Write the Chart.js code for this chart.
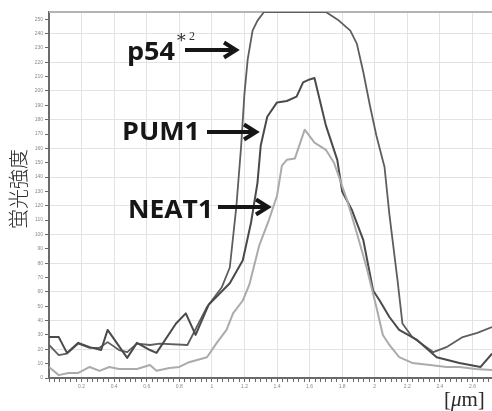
<!DOCTYPE html>
<html lang="ja">
<head>
<meta charset="UTF-8">
<title>蛍光強度プロファイル</title>
<script src="https://cdn.jsdelivr.net/npm/chart.js"></script>
<style>
  html, body { margin: 0; padding: 0; background: #fff; }
  #wrap { width: 492px; height: 411px; }
</style>
</head>
<body>
<div id="wrap"><canvas id="profile" width="492" height="411"></canvas></div>
<script>
// line-scan position (um) and intensity
const p54X = [0, 0.06, 0.11, 0.18, 0.25, 0.31, 0.36, 0.43, 0.48, 0.54, 0.62, 0.68, 0.85, 0.97, 1.06, 1.11, 1.15, 1.18, 1.20, 1.22, 1.25, 1.28, 1.32, 1.70, 1.78, 1.85, 1.89, 1.93, 1.97, 2.01, 2.06, 2.09, 2.14, 2.17, 2.23, 2.36, 2.44, 2.54, 2.63, 2.72];
const p54Y = [23, 16, 17, 24, 21, 21, 25, 19.5, 18, 24, 23, 24, 23, 49.5, 63, 77, 119, 162, 198, 222, 242, 249, 255, 255, 249, 242, 233, 213, 190, 169, 147, 114, 68, 38, 28.5, 18, 21.5, 28.5, 31.5, 35.5];

const pum1X = [0, 0.06, 0.11, 0.18, 0.25, 0.32, 0.36, 0.48, 0.54, 0.62, 0.66, 0.78, 0.84, 0.90, 0.98, 1.11, 1.19, 1.24, 1.28, 1.30, 1.34, 1.40, 1.46, 1.52, 1.56, 1.60, 1.63, 1.70, 1.77, 1.80, 1.86, 1.93, 1.99, 2.03, 2.09, 2.15, 2.26, 2.38, 2.52, 2.65, 2.72];
const pum1Y = [28.5, 28.5, 17.5, 24.5, 21.5, 19.5, 33.5, 14, 24.5, 19.5, 17.5, 38, 45, 30, 51, 66, 82, 108, 136, 162, 182, 192, 193, 196, 206, 208, 209, 176, 152, 130, 117, 96, 61, 54, 42.5, 33.5, 26.5, 14.5, 10.5, 7.7, 17];

const neat1X = [0, 0.06, 0.12, 0.18, 0.25, 0.31, 0.37, 0.43, 0.54, 0.62, 0.66, 0.74, 0.80, 0.86, 0.97, 1.03, 1.09, 1.13, 1.19, 1.23, 1.29, 1.35, 1.40, 1.43, 1.46, 1.51, 1.57, 1.63, 1.70, 1.75, 1.83, 1.89, 1.95, 2.01, 2.05, 2.09, 2.15, 2.23, 2.34, 2.44, 2.52, 2.62, 2.72];
const neat1Y = [7.7, 2, 3.5, 3.5, 7.7, 5, 7.7, 6.3, 6.3, 9, 5, 7, 7.7, 11, 14.5, 24.5, 33.5, 45, 54, 65, 92, 110, 127, 148, 152, 153, 173, 164, 159, 150, 124, 101, 77, 49.5, 30, 23, 14.5, 10.5, 9, 7.7, 7.7, 6.3, 5.6];

const yTicks = [0, 10, 20, 30, 40, 50, 60, 70, 80, 90, 100, 110, 120, 130, 140, 150, 160, 170, 180, 190, 200, 210, 220, 230, 240, 250];
const xTickValues = [0.2, 0.4, 0.6, 0.8, 1, 1.2, 1.4, 1.6, 1.8, 2, 2.2, 2.4, 2.6];
const xTickLabels = ['0.2', '0.4', '0.6', '0.8', '1', '1.2', '1.4', '1.6', '1.8', '2', '2.2', '2.4', '2.6'];
const xMinorPerMajor = 6;

const toPoints = (xs, ys) => xs.map((x, i) => ({ x: x, y: ys[i] }));
const majorIndex = v => xTickValues.findIndex(t => Math.abs(t - v) < 1e-6);

function drawArrow(ctx, x1, x2, y) {
  ctx.beginPath();
  ctx.moveTo(x1, y);
  ctx.lineTo(x2 - 2, y);
  ctx.stroke();
  ctx.beginPath();
  ctx.moveTo(x2 - 12, y - 7.5);
  ctx.lineTo(x2, y);
  ctx.lineTo(x2 - 12, y + 7.5);
  ctx.stroke();
}

function fitText(ctx, text, x, baseline, width) {
  const w = ctx.measureText(text).width;
  ctx.save();
  ctx.translate(x, baseline);
  ctx.scale(width / w, 1);
  ctx.fillText(text, 0, 0);
  ctx.restore();
}

const annotations = {
  id: 'annotations',
  beforeDatasetsDraw(chart) {
    const { ctx, chartArea } = chart;
    ctx.save();
    ctx.strokeStyle = '#b4b4b4';
    ctx.lineWidth = 2;
    ctx.beginPath();
    ctx.moveTo(chartArea.left, chartArea.top);
    ctx.lineTo(chartArea.right, chartArea.top);
    ctx.stroke();
    ctx.restore();
  },
  afterDraw(chart) {
    const ctx = chart.ctx;
    ctx.save();
    ctx.fillStyle = '#161616';
    ctx.strokeStyle = '#161616';
    ctx.textAlign = 'left';
    ctx.textBaseline = 'alphabetic';
    ctx.font = 'bold 25px "Open Sans"';
    fitText(ctx, 'p54', 127, 60, 48);
    fitText(ctx, 'PUM1', 122, 140, 78);
    fitText(ctx, 'NEAT1', 128, 218, 85);
    // footnote mark
    ctx.fillStyle = '#333';
    ctx.font = '18px "DejaVu Serif"';
    ctx.fillText('\u2217', 175, 43);
    ctx.font = '12px "Liberation Serif"';
    ctx.fillText('2', 189, 40);
    ctx.fillStyle = '#161616';

    ctx.lineWidth = 4;
    ctx.lineJoin = 'miter';
    drawArrow(ctx, 185, 236, 50);
    drawArrow(ctx, 207, 256, 132);
    drawArrow(ctx, 218, 268, 207);

    // y-axis title
    ctx.save();
    ctx.translate(18, 189);
    ctx.rotate(-Math.PI / 2);
    ctx.textAlign = 'center';
    ctx.textBaseline = 'middle';
    ctx.fillStyle = '#2a2a2a';
    ctx.font = '300 20px "Noto Sans CJK JP"';
    ctx.fillText('蛍光強度', 0, 0);
    ctx.restore();

    // unit
    ctx.fillStyle = '#2a2a2a';
    ctx.font = '21px "Liberation Serif"';
    let x = 444;
    ctx.fillText('[', x, 406);
    x += ctx.measureText('[').width;
    ctx.font = 'italic 21px "Liberation Serif"';
    ctx.fillText('\u03bc', x, 406);
    x += ctx.measureText('\u03bc').width;
    ctx.font = '21px "Liberation Serif"';
    ctx.fillText('m]', x, 406);
    ctx.restore();
  }
};

new Chart(document.getElementById('profile'), {
  type: 'line',
  data: {
    datasets: [
      { label: 'NEAT1', data: toPoints(neat1X, neat1Y), borderColor: '#ababab', borderWidth: 2 },
      { label: 'PUM1', data: toPoints(pum1X, pum1Y), borderColor: '#4a4a4a', borderWidth: 2 },
      { label: 'p54', data: toPoints(p54X, p54Y), borderColor: '#5e5e5e', borderWidth: 1.8 }
    ]
  },
  options: {
    responsive: false,
    animation: false,
    devicePixelRatio: 1,
    layout: { padding: { top: 12, left: 0, right: 0, bottom: 0 } },
    elements: {
      point: { radius: 0 },
      line: { tension: 0, borderJoinStyle: 'round' }
    },
    plugins: { legend: { display: false }, tooltip: { enabled: false } },
    scales: {
      x: {
        type: 'linear',
        min: 0,
        max: 2.72,
        afterBuildTicks: s => {
          const step = xTickValues[0] / xMinorPerMajor;
          const ticks = [];
          for (let k = 0; k * step <= 2.72 + 1e-9; k++) ticks.push({ value: k * step });
          s.ticks = ticks;
        },
        afterFit: s => { s.height = 33; },
        ticks: {
          autoSkip: false,
          maxRotation: 0,
          padding: 2,
          color: '#8a8a8a',
          font: { size: 5 },
          callback: v => {
            const i = majorIndex(v);
            return i >= 0 ? xTickLabels[i] : '';
          }
        },
        grid: {
          color: c => (c.tick && majorIndex(c.tick.value) >= 0) ? '#e3e3e3' : 'rgba(0,0,0,0)',
          tickColor: '#6a6a6a',
          tickLength: 4,
          lineWidth: 1
        },
        border: { color: '#6a6a6a', width: 2 }
      },
      y: {
        min: 0,
        max: 255,
        afterBuildTicks: s => { s.ticks = yTicks.map(v => ({ value: v })); },
        afterFit: s => { s.width = 49; },
        ticks: {
          padding: 2,
          color: '#8a8a8a',
          font: { size: 5 }
        },
        grid: {
          color: c => (c.tick && c.tick.value % 20 === 0) ? '#e3e3e3' : 'rgba(0,0,0,0)',
          tickColor: '#6a6a6a',
          tickLength: 4,
          lineWidth: 1
        },
        border: { color: '#6a6a6a', width: 2 }
      }
    }
  },
  plugins: [annotations]
});
</script>
</body>
</html>
